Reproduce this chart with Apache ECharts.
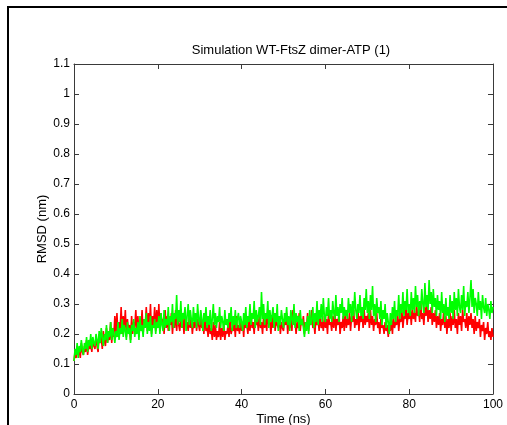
<!DOCTYPE html>
<html>
<head>
<meta charset="utf-8">
<script src="https://cdn.jsdelivr.net/npm/echarts@6/dist/echarts.min.js"></script>
<style>html,body{margin:0;padding:0;background:#fff}#c{width:507px;height:425px}</style>
</head>
<body>
<div id="c"></div>
<script>
const title = 'Simulation WT-FtsZ dimer-ATP (1)';
const xLabel = 'Time (ns)';
const yLabel = 'RMSD (nm)';
const timeStep = 0.25;
const xTicks = [0, 20, 40, 60, 80, 100];
const yTicks = [0, 0.1, 0.2, 0.3, 0.4, 0.5, 0.6, 0.7, 0.8, 0.9, 1, 1.1];
const greenRMSD = [
0.11,0.15,0.13,0.17,0.12,0.16,0.14,0.18,0.15,0.13,0.17,0.15,0.19,0.14,0.18,0.16,0.20,0.15,0.19,0.17,
0.16,0.20,0.18,0.15,0.21,0.17,0.22,0.19,0.16,0.20,0.18,0.23,0.17,0.21,0.19,0.24,0.18,0.22,0.20,0.17,
0.21,0.19,0.24,0.18,0.22,0.20,0.25,0.19,0.23,0.21,0.18,0.24,0.20,0.22,0.17,0.23,0.21,0.25,0.19,0.22,
0.20,0.24,0.18,0.26,0.21,0.23,0.19,0.25,0.22,0.27,0.20,0.24,0.21,0.26,0.19,0.23,0.22,0.25,0.20,0.24,
0.22,0.26,0.20,0.27,0.23,0.21,0.28,0.22,0.25,0.23,0.29,0.21,0.26,0.24,0.30,0.22,0.27,0.25,0.33,0.23,
0.28,0.24,0.31,0.22,0.27,0.25,0.29,0.21,0.26,0.30,0.23,0.28,0.25,0.22,0.29,0.24,0.27,0.22,0.30,0.25,
0.23,0.28,0.25,0.21,0.27,0.24,0.29,0.22,0.26,0.23,0.28,0.21,0.25,0.30,0.23,0.27,0.22,0.26,0.24,0.29,
0.22,0.26,0.24,0.21,0.28,0.23,0.25,0.22,0.27,0.24,0.29,0.21,0.26,0.23,0.28,0.22,0.25,0.27,0.22,0.26,
0.24,0.21,0.27,0.23,0.29,0.22,0.26,0.24,0.30,0.23,0.27,0.25,0.31,0.22,0.28,0.24,0.26,0.29,0.23,0.34,
0.25,0.30,0.23,0.27,0.25,0.31,0.22,0.28,0.24,0.26,0.29,0.22,0.27,0.24,0.30,0.21,0.26,0.23,0.28,0.25,
0.22,0.27,0.24,0.29,0.23,0.26,0.21,0.28,0.25,0.23,0.30,0.22,0.27,0.24,0.26,0.21,0.28,0.23,0.25,0.22,
0.19,0.24,0.21,0.26,0.20,0.28,0.23,0.25,0.29,0.22,0.27,0.24,0.31,0.23,0.28,0.25,0.30,0.24,0.32,0.26,
0.24,0.29,0.26,0.32,0.25,0.28,0.24,0.31,0.27,0.25,0.33,0.26,0.29,0.24,0.30,0.27,0.32,0.25,0.29,0.26,
0.28,0.25,0.32,0.27,0.30,0.24,0.31,0.26,0.34,0.28,0.25,0.30,0.27,0.33,0.26,0.29,0.25,0.32,0.28,0.35,
0.27,0.31,0.25,0.33,0.28,0.36,0.26,0.30,0.24,0.32,0.27,0.29,0.25,0.31,0.23,0.28,0.25,0.30,0.22,0.27,
0.24,0.20,0.27,0.23,0.29,0.25,0.31,0.24,0.28,0.26,0.33,0.25,0.30,0.27,0.34,0.26,0.31,0.28,0.35,0.27,
0.30,0.26,0.34,0.28,0.32,0.27,0.36,0.29,0.33,0.26,0.31,0.28,0.35,0.30,0.27,0.37,0.29,0.33,0.28,0.38,
0.30,0.34,0.27,0.35,0.29,0.32,0.26,0.33,0.28,0.31,0.25,0.34,0.27,0.30,0.24,0.32,0.26,0.29,0.25,0.33,
0.27,0.31,0.25,0.34,0.28,0.32,0.26,0.35,0.29,0.27,0.33,0.28,0.36,0.26,0.31,0.29,0.34,0.27,0.32,0.38,
0.29,0.35,0.27,0.32,0.30,0.26,0.34,0.28,0.31,0.25,0.33,0.29,0.27,0.32,0.26,0.30,0.28,0.25,0.31,0.27,
0.29];
const redRMSD = [
0.11,0.14,0.12,0.16,0.13,0.15,0.12,0.17,0.14,0.13,0.16,0.14,0.18,0.13,0.16,0.15,0.17,0.14,0.18,0.16,
0.15,0.19,0.16,0.14,0.20,0.17,0.19,0.15,0.21,0.18,0.16,0.22,0.17,0.20,0.18,0.24,0.17,0.22,0.19,0.26,
0.20,0.27,0.19,0.24,0.21,0.29,0.20,0.26,0.22,0.28,0.19,0.25,0.21,0.23,0.18,0.26,0.20,0.24,0.22,0.28,
0.21,0.26,0.19,0.24,0.22,0.28,0.20,0.25,0.23,0.29,0.21,0.27,0.22,0.30,0.20,0.26,0.23,0.29,0.21,0.28,
0.22,0.30,0.21,0.27,0.23,0.25,0.20,0.28,0.22,0.26,0.21,0.24,0.23,0.27,0.20,0.25,0.22,0.28,0.21,0.26,
0.23,0.21,0.26,0.22,0.25,0.20,0.27,0.23,0.24,0.21,0.26,0.22,0.25,0.20,0.24,0.22,0.27,0.21,0.25,0.23,
0.21,0.26,0.22,0.24,0.20,0.27,0.21,0.23,0.19,0.25,0.20,0.22,0.18,0.24,0.19,0.23,0.18,0.21,0.19,0.24,
0.18,0.22,0.19,0.24,0.18,0.21,0.20,0.23,0.19,0.25,0.20,0.22,0.21,0.24,0.19,0.26,0.21,0.23,0.20,0.25,
0.21,0.24,0.19,0.26,0.22,0.23,0.20,0.25,0.21,0.27,0.22,0.24,0.20,0.26,0.23,0.25,0.21,0.27,0.22,0.24,
0.20,0.26,0.22,0.25,0.21,0.28,0.23,0.24,0.20,0.26,0.22,0.27,0.21,0.25,0.23,0.22,0.26,0.20,0.24,0.22,
0.21,0.25,0.23,0.27,0.20,0.24,0.22,0.26,0.21,0.28,0.23,0.25,0.20,0.24,0.22,0.27,0.21,0.25,0.23,0.26,
0.20,0.24,0.22,0.27,0.21,0.25,0.23,0.28,0.22,0.24,0.20,0.26,0.23,0.25,0.21,0.27,0.22,0.24,0.21,0.26,
0.22,0.25,0.20,0.27,0.23,0.24,0.21,0.26,0.22,0.28,0.21,0.25,0.23,0.27,0.20,0.24,0.22,0.26,0.21,0.28,
0.22,0.25,0.23,0.27,0.21,0.26,0.24,0.28,0.22,0.25,0.23,0.29,0.21,0.26,0.24,0.27,0.22,0.28,0.23,0.26,
0.24,0.27,0.22,0.28,0.23,0.26,0.21,0.25,0.23,0.27,0.22,0.24,0.20,0.25,0.22,0.23,0.20,0.24,0.21,0.23,
0.19,0.23,0.21,0.25,0.20,0.26,0.22,0.24,0.23,0.27,0.21,0.25,0.24,0.28,0.22,0.26,0.25,0.29,0.23,0.27,
0.25,0.28,0.23,0.29,0.25,0.27,0.24,0.30,0.26,0.28,0.24,0.31,0.25,0.27,0.23,0.29,0.26,0.30,0.24,0.28,
0.25,0.29,0.23,0.27,0.24,0.28,0.22,0.26,0.23,0.27,0.21,0.25,0.23,0.28,0.22,0.26,0.20,0.25,0.22,0.27,
0.21,0.26,0.23,0.28,0.22,0.25,0.20,0.27,0.23,0.26,0.21,0.28,0.24,0.25,0.22,0.27,0.21,0.26,0.23,0.27,
0.22,0.25,0.20,0.26,0.21,0.24,0.22,0.25,0.19,0.23,0.21,0.24,0.18,0.22,0.20,0.24,0.19,0.21,0.18,0.22,
0.19];

const toPairs = arr => arr.map((v, i) => [i * timeStep, v]);
const font = 'Liberation Sans, Arial, sans-serif';
const axisColor = '#3a3a3a';
const chart = echarts.init(document.getElementById('c'), null, {renderer: 'canvas'});
const fmtY = v => (yTicks.some(t => Math.abs(t - v) < 1e-9) ? String(Math.round(v * 10) / 10) : '');
const common = () => ({
  axisLine: {show: true, onZero: false, lineStyle: {color: axisColor, width: 1}},
  axisTick: {show: true, inside: true, length: 5, lineStyle: {color: axisColor}},
  splitLine: {show: false}
});
chart.setOption({
  animation: false,
  backgroundColor: '#fff',
  title: {
    text: title, left: 286, textAlign: 'center', top: 39,
    textStyle: {fontFamily: font, fontSize: 13, fontWeight: 'normal', color: '#000'}
  },
  grid: {left: 74, right: 14, top: 64, bottom: 31, containLabel: false, outerBoundsMode: 'none'},
  xAxis: [
    Object.assign({
      type: 'value', min: xTicks[0], max: xTicks[xTicks.length - 1], interval: 20,
      position: 'bottom',
      name: xLabel, nameLocation: 'middle', nameGap: 19, nameMoveOverlap: false,
      nameTextStyle: {fontFamily: font, fontSize: 13, color: '#000'},
      axisLabel: {fontFamily: font, fontSize: 12, color: '#000', margin: 5}
    }, common()),
    Object.assign({
      type: 'value', min: 0, max: 100, interval: 20, position: 'top',
      axisLabel: {show: false}
    }, common())
  ],
  yAxis: [
    Object.assign({
      type: 'value', min: yTicks[0], max: yTicks[yTicks.length - 1], interval: 0.1,
      position: 'left',
      name: yLabel, nameLocation: 'middle', nameGap: 25, nameMoveOverlap: false,
      nameTextStyle: {fontFamily: font, fontSize: 13, color: '#000'},
      axisLabel: {fontFamily: font, fontSize: 12, color: '#000', margin: 4, formatter: fmtY}
    }, common()),
    Object.assign({
      type: 'value', min: 0, max: 1.1, interval: 0.1, position: 'right',
      axisLabel: {show: false}
    }, common())
  ],
  graphic: [
    {type: 'rect', shape: {x: 7, y: 6, width: 2, height: 425}, style: {fill: '#000'}},
    {type: 'rect', shape: {x: 7, y: 6, width: 500, height: 2}, style: {fill: '#000'}}
  ],
  series: [
    {type: 'line', data: toPairs(redRMSD), showSymbol: false, symbol: 'none',
     lineStyle: {color: '#ff0000', width: 1.6}, clip: true},
    {type: 'line', data: toPairs(greenRMSD), showSymbol: false, symbol: 'none',
     lineStyle: {color: '#00ff00', width: 1.6}, clip: true}
  ]
});
</script>
</body>
</html>
